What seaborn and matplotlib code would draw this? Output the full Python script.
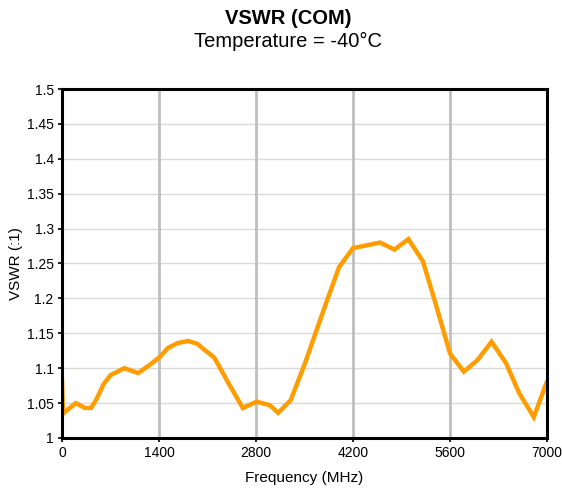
import pandas as pd
import matplotlib
matplotlib.use("Agg")
import matplotlib.pyplot as plt
import matplotlib.ticker as mticker
import seaborn as sns

# 数据
freq_mhz = [0, 15, 200, 330, 420, 500, 600, 700, 900, 1100, 1270, 1410, 1530, 1670,
            1820, 1950, 2200, 2400, 2610, 2810, 3000, 3120, 3300, 3500, 3800, 4000,
            4200, 4590, 4800, 5000, 5210, 5400, 5600, 5800, 6000, 6200, 6410, 6600,
            6810, 7000]
vswr = [1.085, 1.035, 1.050, 1.043, 1.043, 1.056, 1.077, 1.090, 1.100, 1.093, 1.105,
        1.116, 1.129, 1.136, 1.139, 1.135, 1.115, 1.079, 1.043, 1.052, 1.047, 1.036,
        1.054, 1.105, 1.190, 1.245, 1.272, 1.280, 1.270, 1.285, 1.253, 1.190, 1.121,
        1.095, 1.112, 1.138, 1.107, 1.064, 1.030, 1.081]

x_ticks = [0, 1400, 2800, 4200, 5600, 7000]
y_ticks = [1.0, 1.05, 1.1, 1.15, 1.2, 1.25, 1.3, 1.35, 1.4, 1.45, 1.5]

df = pd.DataFrame({"freq": freq_mhz, "vswr": vswr})

sns.set_style("white")
plt.rcParams["font.family"] = ["Liberation Sans", "DejaVu Sans"]
plt.rcParams["text.color"] = "black"
plt.rcParams["axes.labelcolor"] = "black"

fig = plt.figure(figsize=(5.62, 4.88), dpi=100)
ax = fig.add_axes([0.1103, 0.1025, 0.863, 0.7151])

# 网格线
for y in y_ticks[1:-1]:
    ax.axhline(y, color="#d9d9d9", lw=1.0, zorder=0)
for x in x_ticks[1:-1]:
    ax.axvline(x, color="#bfbfbf", lw=2.0, zorder=0)

sns.lineplot(data=df, x="freq", y="vswr", color="#ff9c00", lw=3.2, ax=ax,
             zorder=3, solid_joinstyle="miter")

ax.set_xlim(0, 7000)
ax.set_ylim(1.0, 1.5)
ax.set_xticks(x_ticks)
ax.set_yticks(y_ticks)
ax.yaxis.set_major_formatter(mticker.FormatStrFormatter("%g"))
ax.tick_params(axis="both", labelsize=10, length=3, width=1.2, direction="out",
               colors="black", bottom=True, left=True, pad=3)

for s in ax.spines.values():
    s.set_color("black")
    s.set_linewidth(2.2)
    s.set_zorder(4)

ax.set_xlabel("Frequency (MHz)", fontsize=11, labelpad=8, color="black")
ax.set_ylabel("VSWR (:1)", fontsize=11, color="black")
ax.yaxis.set_label_coords(-0.080, 0.5)

fig.text(0.513, 0.962, "VSWR (COM)", ha="center", va="center",
         fontsize=14.5, fontweight="bold", color="black")
fig.text(0.513, 0.914, "Temperature = -40°C", ha="center", va="center",
         fontsize=14.5, color="black")

fig.savefig("out.png", dpi=100)
